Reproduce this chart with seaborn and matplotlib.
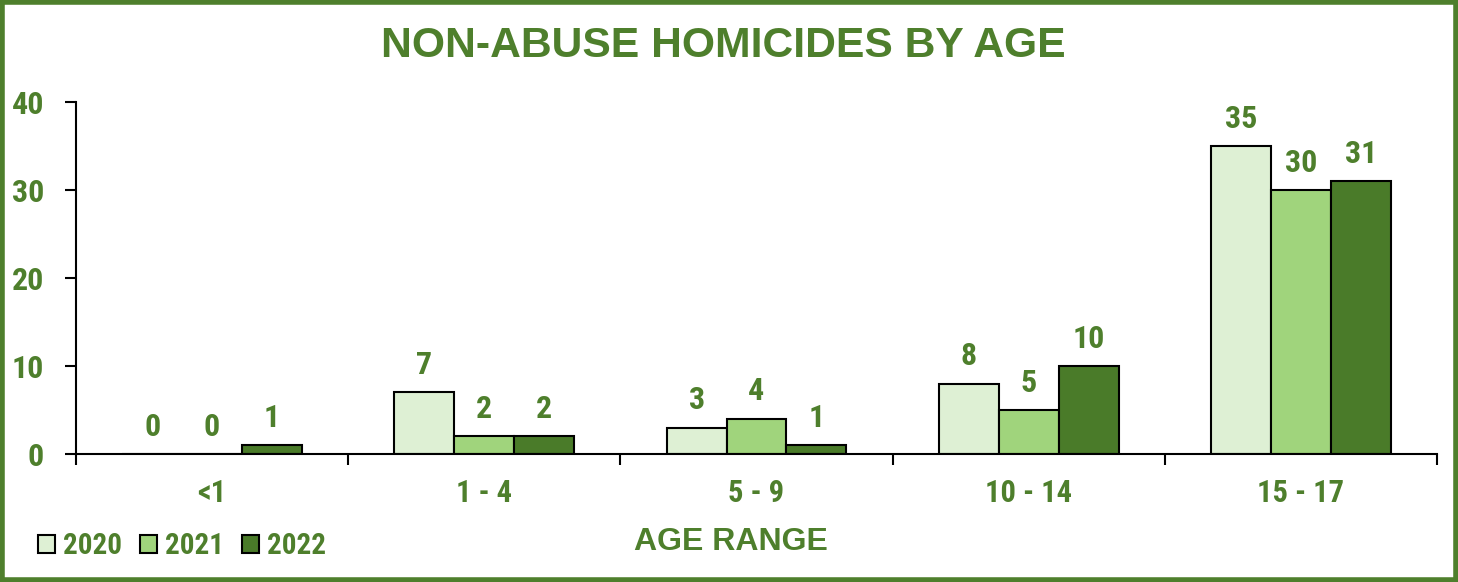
import matplotlib
matplotlib.use("Agg")
import matplotlib.pyplot as plt
from matplotlib.patches import Rectangle, Patch
import seaborn as sns
import pandas as pd

# Data
age_ranges = ["<1", "1 - 4", "5 - 9", "10 - 14", "15 - 17"]
years = ["2020", "2021", "2022"]
counts_2020 = [0, 7, 3, 8, 35]
counts_2021 = [0, 2, 4, 5, 30]
counts_2022 = [1, 2, 1, 10, 31]
y_ticks = [0, 10, 20, 30, 40]

GREEN = "#4E7F2C"
palette = {"2020": "#DEF0D4", "2021": "#A0D47C", "2022": "#4A7B29"}
NARROW = ["Roboto Condensed", "DejaVu Sans"]
WIDE = ["Liberation Sans", "DejaVu Sans"]

df = pd.DataFrame({
    "age": age_ranges * 3,
    "year": [y for y in years for _ in age_ranges],
    "count": counts_2020 + counts_2021 + counts_2022,
})

sns.set_style("white")
plt.rcParams["font.family"] = NARROW

fig = plt.figure(figsize=(14.58, 5.82), dpi=100)
ax = fig.add_axes([0.0521, 0.2199, 0.9335, 0.6048])

sns.barplot(data=df, x="age", y="count", hue="year", order=age_ranges,
            hue_order=years, palette=palette, saturation=1, width=0.66,
            gap=0, edgecolor="black", linewidth=1.5, legend=False, ax=ax)

# value labels above each bar
for cont in ax.containers:
    ax.bar_label(cont, fmt="%d", padding=9, color=GREEN, fontsize=23,
                 fontweight="bold", family=NARROW)

ax.set_ylim(0, 40)
ax.set_xlim(-0.5, len(age_ranges) - 0.5)
ax.set_yticks(y_ticks)
ax.set_yticklabels([str(t) for t in y_ticks], color=GREEN, fontsize=23,
                   fontweight="bold", family=NARROW)
ax.set_xticks(range(len(age_ranges)))
ax.set_xticklabels(age_ranges, color=GREEN, fontsize=22, fontweight="bold",
                   family=NARROW)
ax.set_xticks([i - 0.5 for i in range(len(age_ranges) + 1)], minor=True)
ax.tick_params(axis="x", which="major", bottom=True, length=0, pad=17)
ax.tick_params(axis="x", which="minor", bottom=True, length=8, width=1.5,
               color="black", direction="out")
ax.tick_params(axis="y", left=True, length=8, width=1.5, color="black",
               direction="out", pad=15)
ax.set_xlabel("")
ax.set_ylabel("")
for side in ["top", "right"]:
    ax.spines[side].set_visible(False)
for side in ["left", "bottom"]:
    ax.spines[side].set_color("black")
    ax.spines[side].set_linewidth(1.5)

fig.text(0.496, 0.921, "NON-ABUSE HOMICIDES BY AGE", ha="center", va="center",
         color=GREEN, fontsize=30.7, fontweight="bold", family=WIDE)
fig.text(0.501, 0.069, "AGE RANGE", ha="center", va="center", color=GREEN,
         fontsize=23, fontweight="bold", family=WIDE)

handles = [Patch(facecolor=palette[y], edgecolor="black", linewidth=1.5)
           for y in years]
leg = fig.legend(handles, years, loc="center left",
                 bbox_to_anchor=(0.026, 0.062), ncol=3, frameon=False,
                 handlelength=0.58, handleheight=0.58, handletextpad=0.28,
                 columnspacing=0.62, borderpad=0, borderaxespad=0,
                 prop={"family": NARROW, "size": 21, "weight": "bold"})
for t in leg.get_texts():
    t.set_color(GREEN)

fig.patches.append(Rectangle((0.0017, 0.003), 0.9966, 0.994,
                             transform=fig.transFigure, fill=False,
                             edgecolor=GREEN, linewidth=4, zorder=10))

fig.savefig("out.png", dpi=100)
